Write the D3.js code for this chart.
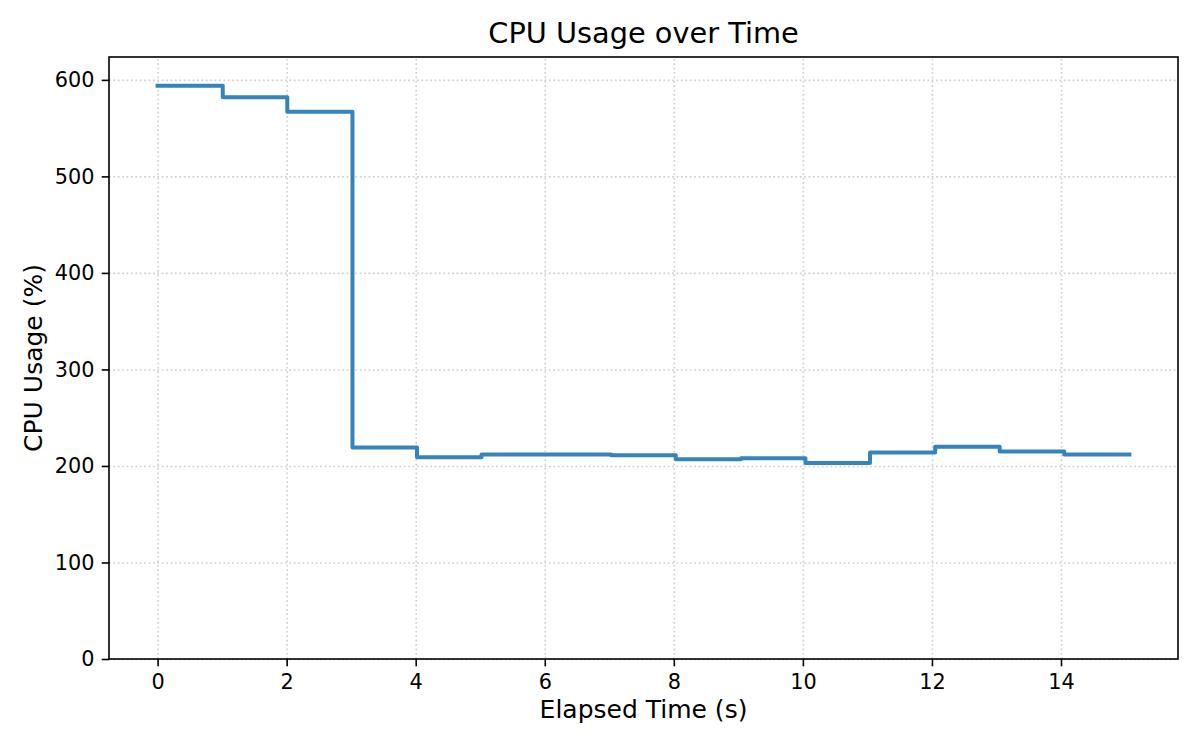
<!DOCTYPE html>
<html>
<head>
    <title>CPU Usage over Time</title>
    <script src="https://d3js.org/d3.v7.min.js"></script>
    <style>
        body { margin: 0; background: #fff; }
        svg { font-family: "DejaVu Sans", sans-serif; }
        .grid line {
            stroke: #cfcfcf;
            stroke-width: 1.6;
            stroke-dasharray: 1.7 2.7;
        }
        .grid path { display: none; }
    </style>
</head>
<body>
    <svg width="1200" height="750"></svg>
    <script>

        // Elapsed time (s) of each sample and the CPU usage (%)
        const times = [0, 1.01, 2.01, 3.02, 4.02, 5.02, 6.03, 7.03, 8.03, 9.04, 10.04, 11.04, 12.05, 13.05, 14.05, 15.06];
        const cpuUsage = [594, 582, 567, 219, 209, 212, 212, 211, 207, 208, 203, 214, 220, 215, 212, 212];

        const xTicks = [0, 2, 4, 6, 8, 10, 12, 14];
        const yTicks = [0, 100, 200, 300, 400, 500, 600];

        const svg = d3.select("svg"),
            margin = { top: 57, right: 22, bottom: 91, left: 109 },
            width = +svg.attr("width") - margin.left - margin.right,
            height = +svg.attr("height") - margin.top - margin.bottom,
            g = svg.append("g").attr("transform", "translate(" + margin.left + "," + margin.top + ")");

        const data = times.map((t, i) => ({ t: t, v: cpuUsage[i] }));

        // matplotlib-style 5% padding on x, y starts at 0
        const tMin = d3.min(times), tMax = d3.max(times), pad = (tMax - tMin) * 0.05;
        const x = d3.scaleLinear().domain([tMin - pad, tMax + pad]).range([0, width]);
        const y = d3.scaleLinear().domain([0, d3.max(cpuUsage) * 1.05]).range([height, 0]);

        // dotted grid
        g.append("g")
            .attr("class", "grid")
            .attr("transform", "translate(0," + height + ")")
            .call(d3.axisBottom(x).tickValues(xTicks).tickSize(-height).tickFormat(""));
        g.append("g")
            .attr("class", "grid")
            .call(d3.axisLeft(y).tickValues(yTicks).tickSize(-width).tickFormat(""));

        // step line (value holds until the next sample)
        const line = d3.line()
            .x(d => x(d.t))
            .y(d => y(d.v))
            .curve(d3.curveStepAfter);

        g.append("path")
            .datum(data)
            .attr("fill", "none")
            .attr("stroke", "#1f77b4")
            .attr("stroke-opacity", 0.9)
            .attr("stroke-width", 4)
            .attr("stroke-linecap", "square")
            .attr("stroke-linejoin", "round")
            .attr("d", line);

        // axes
        const xAxis = g.append("g")
            .attr("transform", "translate(0," + height + ")")
            .call(d3.axisBottom(x).tickValues(xTicks).tickSize(7.3).tickPadding(8).tickFormat(d3.format("d")));
        const yAxis = g.append("g")
            .call(d3.axisLeft(y).tickValues(yTicks).tickSize(7.3).tickPadding(7.3).tickFormat(d3.format("d")));

        [xAxis, yAxis].forEach(a => {
            a.attr("font-family", null);  // d3 puts sans-serif here, keep DejaVu from the svg
            a.selectAll("text")
                .style("font-family", "'DejaVu Sans', sans-serif")
                .style("font-size", "20.8px")
                .attr("fill", "#000");
            a.selectAll("line").attr("stroke", "#000").attr("stroke-width", 1.6);
            a.select(".domain").remove();
        });

        // frame
        g.append("rect")
            .attr("width", width)
            .attr("height", height)
            .attr("fill", "none")
            .attr("stroke", "#000")
            .attr("stroke-width", 1.6);

        // title and labels
        svg.append("text")
            .attr("x", margin.left + width / 2)
            .attr("y", 43)
            .attr("text-anchor", "middle")
            .style("font-size", "28.8px")
            .text("CPU Usage over Time");

        svg.append("text")
            .attr("x", margin.left + width / 2)
            .attr("y", 718)
            .attr("text-anchor", "middle")
            .style("font-size", "25px")
            .text("Elapsed Time (s)");

        svg.append("text")
            .attr("transform", "translate(42," + (margin.top + height / 2) + ") rotate(-90)")
            .attr("text-anchor", "middle")
            .style("font-size", "25px")
            .text("CPU Usage (%)");

    </script>
</body>
</html>
